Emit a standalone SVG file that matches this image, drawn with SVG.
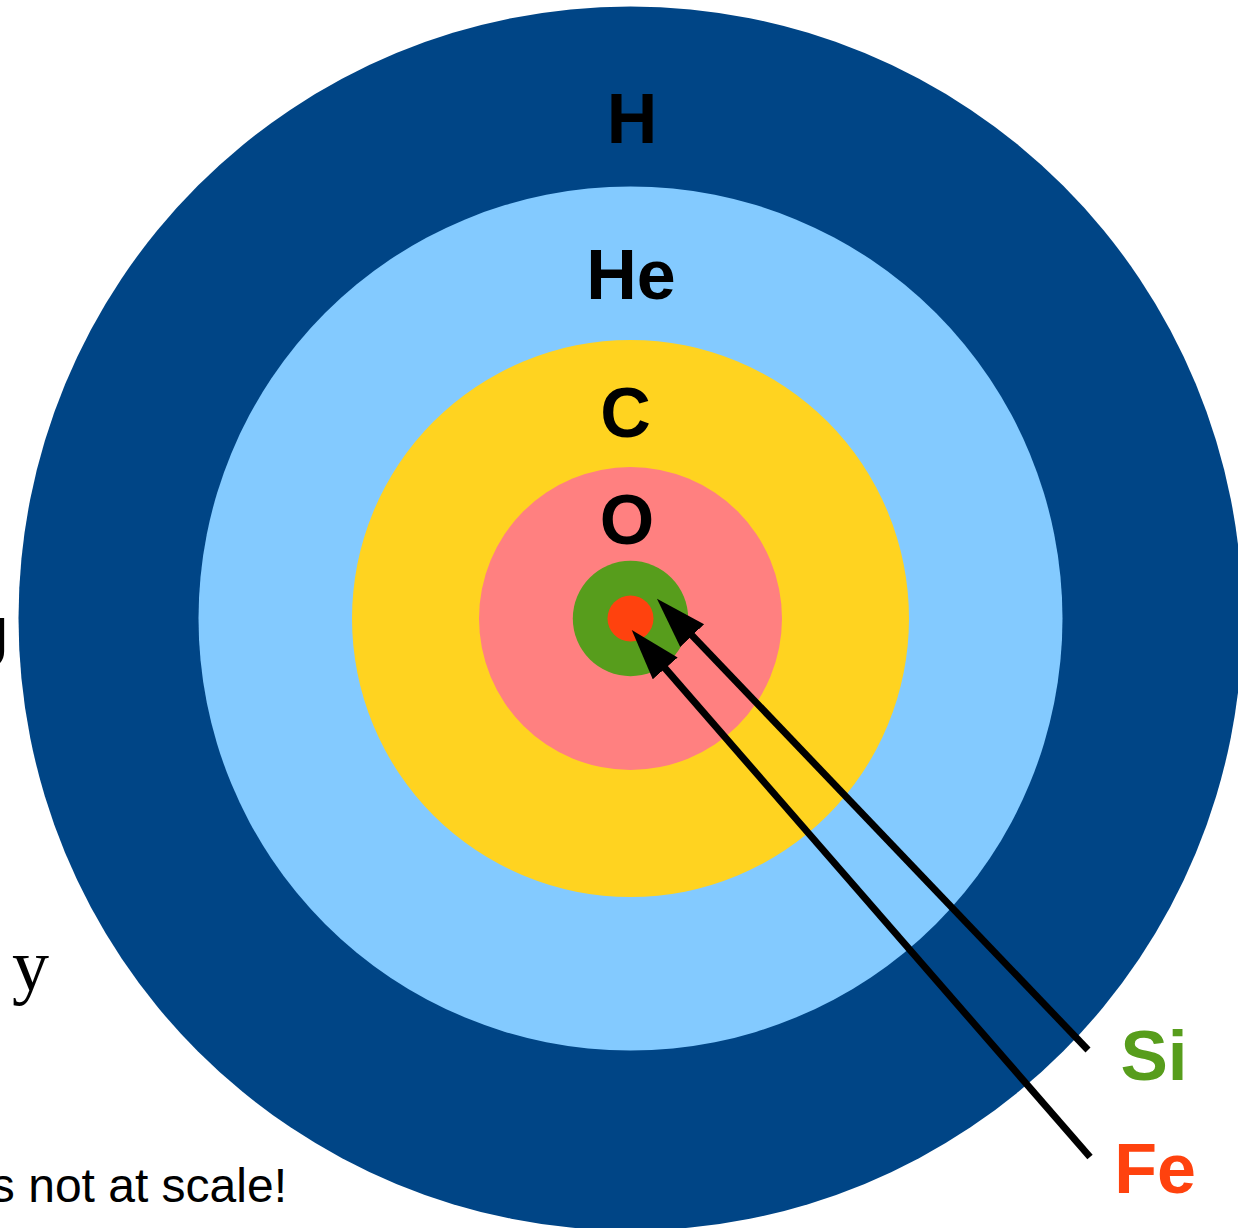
<svg xmlns="http://www.w3.org/2000/svg" width="1238" height="1228" viewBox="0 0 1238 1228">
<style>
.lbl{font-family:"Liberation Sans",Arial,sans-serif;font-weight:bold;font-size:70px;text-anchor:middle;fill:#000}
.arr{stroke:#000;stroke-width:7;fill:none}
</style>
<defs>
<marker id="ah" markerUnits="userSpaceOnUse" markerWidth="60" markerHeight="40" viewBox="0 -20 60 40" refX="2" refY="0" orient="auto">
<path d="M0,-16.5 L51,0 L0,16.5 Z" fill="#000"/>
</marker>
</defs>
<rect width="1238" height="1228" fill="#fff"/>
<g id="layer-H"><circle cx="630.5" cy="618.5" r="612" fill="#004586"/><text class="lbl" x="632" y="143">H</text></g>
<g id="layer-He"><circle cx="630.5" cy="618.5" r="432" fill="#83caff"/><text class="lbl" x="631" y="299">He</text></g>
<g id="layer-C"><circle cx="630.5" cy="618.5" r="278.5" fill="#ffd320"/><text class="lbl" x="625.5" y="437">C</text></g>
<g id="layer-O"><circle cx="630.5" cy="618.5" r="151.5" fill="#ff8080"/><text class="lbl" x="627" y="544">O</text></g>
<g id="layer-Si"><circle cx="630.5" cy="618.5" r="57.7" fill="#579d1c"/></g>
<g id="layer-Fe"><circle cx="630.5" cy="618.5" r="23" fill="#ff420e"/></g>
<g id="connectors">
<line class="arr" x1="1088" y1="1050" x2="690.8" y2="634.1" marker-end="url(#ah)"/>
<line class="arr" x1="1090" y1="1157" x2="663.9" y2="666.9" marker-end="url(#ah)"/>
</g>
<g id="label-Si"><text class="lbl" x="1154" y="1080" style="fill:#579d1c;font-size:71px">Si</text></g>
<g id="label-Fe"><text class="lbl" x="1155" y="1193" style="fill:#ff420e">Fe</text></g>
<g id="fragments">
<text x="-30" y="667" style="font-family:'Liberation Sans',Arial,sans-serif;font-weight:bold;font-size:70px;fill:#000">J</text>
<text x="12" y="990" style="font-family:'Liberation Serif','Times New Roman',serif;font-size:74px;fill:#000">y</text>
<text x="287" y="1202" style="font-family:'Liberation Sans',Arial,sans-serif;font-size:48px;text-anchor:end;fill:#000">s not at scale!</text>
</g>
</svg>
